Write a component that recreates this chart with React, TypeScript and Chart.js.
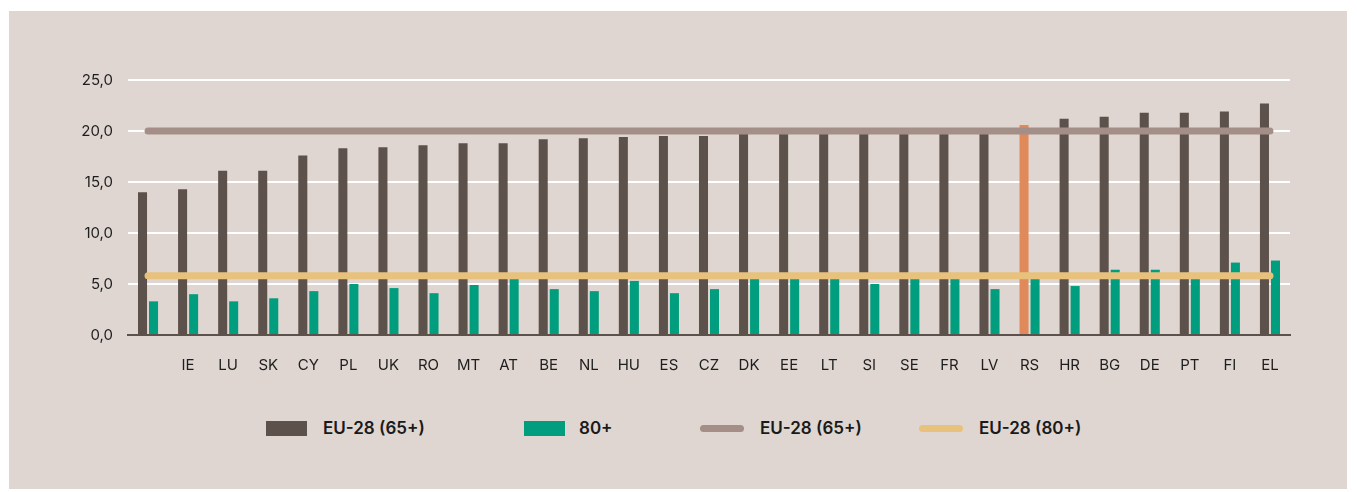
import React, { useEffect, useRef } from "react";
import { Chart, registerables } from "chart.js";

Chart.register(...registerables);

const categories = ["", "IE", "LU", "SK", "CY", "PL", "UK", "RO", "MT", "AT", "BE", "NL", "HU", "ES", "CZ", "DK", "EE", "LT", "SI", "SE", "FR", "LV", "RS", "HR", "BG", "DE", "PT", "FI", "EL"];
const share65 = [14.0, 14.3, 16.1, 16.1, 17.6, 18.3, 18.4, 18.6, 18.8, 18.8, 19.2, 19.3, 19.4, 19.5, 19.5, 19.7, 19.8, 19.8, 19.9, 19.9, 20.0, 20.1, 20.6, 21.2, 21.4, 21.8, 21.8, 21.9, 22.7];
const share80 = [3.3, 4.0, 3.3, 3.6, 4.3, 5.0, 4.6, 4.1, 4.9, 5.6, 4.5, 4.3, 5.3, 4.1, 4.5, 5.6, 5.6, 5.6, 5.0, 5.6, 5.6, 4.5, 5.6, 4.8, 6.4, 6.4, 5.6, 7.1, 7.3];
const eu28_65 = 20.0;
const eu28_80 = 5.8;
const highlighted = "RS";
const yTicks = [0, 5, 10, 15, 20, 25];

const legendLabels = ["EU-28 (65+)", "80+", "EU-28 (65+)", "EU-28 (80+)"];

const C_DARK = "#5D514C";
const C_GREEN = "#009E7E";
const C_ORANGE = "#E0895A";
const C_GRAY = "#A38F87";
const C_YELLOW = "#E8C27C";
const C_BG = "#DFD6D1";

export default function App() {
  const ref = useRef<HTMLCanvasElement | null>(null);

  useEffect(() => {
    if (!ref.current) return;
    Chart.defaults.font.family = "Inter";
    const chart = new Chart(ref.current, {
      type: "bar",
      data: {
        labels: categories,
        datasets: [
          {
            type: "line",
            label: legendLabels[2],
            data: categories.map(() => eu28_65),
            borderColor: C_GRAY,
            borderWidth: 7,
            borderCapStyle: "round",
            pointRadius: 0,
            fill: false,
            order: 0,
          } as any,
          {
            type: "line",
            label: legendLabels[3],
            data: categories.map(() => eu28_80),
            borderColor: C_YELLOW,
            borderWidth: 7,
            borderCapStyle: "round",
            pointRadius: 0,
            fill: false,
            order: 0,
          } as any,
          {
            label: legendLabels[0],
            data: share65,
            backgroundColor: categories.map((c) => (c === highlighted ? C_ORANGE : C_DARK)),
            categoryPercentage: 0.55,
            barPercentage: 0.82,
            order: 1,
          },
          {
            label: legendLabels[1],
            data: share80,
            backgroundColor: C_GREEN,
            categoryPercentage: 0.55,
            barPercentage: 0.82,
            order: 1,
          },
        ],
      },
      options: {
        animation: false,
        responsive: true,
        maintainAspectRatio: false,
        layout: { padding: { left: 0, right: 57, top: 69, bottom: 0 } },
        plugins: { legend: { display: false }, tooltip: { enabled: false } },
        scales: {
          x: {
            grid: { display: true, drawOnChartArea: false, drawTicks: false },
            border: { display: true, color: C_DARK, width: 2 },
            ticks: { color: "#1E1E1E", font: { size: 15 }, padding: 21, autoSkip: false, maxRotation: 0 },
            afterFit: (s: any) => {
              s.height = 56;
            },
          },
          y: {
            min: 0,
            max: 25,
            afterBuildTicks: (s: any) => {
              s.ticks = yTicks.map((v) => ({ value: v }));
            },
            grid: {
              color: (ctx: any) => (ctx.tick && ctx.tick.value === 0 ? "rgba(0,0,0,0)" : "#FFFFFF"),
              lineWidth: 2,
              drawTicks: false,
            },
            border: { display: false },
            ticks: {
              color: "#1E1E1E",
              font: { size: 15 },
              padding: 15,
              callback: (v: any) => Number(v).toFixed(1).replace(".", ","),
            },
            afterFit: (s: any) => {
              s.width = 119;
            },
          },
        },
      },
    });
    return () => chart.destroy();
  }, []);

  const textStyle: React.CSSProperties = {
    position: "absolute",
    top: 405,
    height: 24,
    lineHeight: "24px",
    fontFamily: "Inter",
    fontWeight: 600,
    fontSize: 17,
    color: "#1A1A1A",
    whiteSpace: "nowrap",
  };

  return (
    <div
      style={{
        position: "relative",
        top: 3,
        left: 1,
        width: 1338,
        height: 481,
        background: C_BG,
        fontFamily: "Inter",
      }}
    >
      <div style={{ position: "absolute", left: 0, top: 0, width: 1338, height: 380 }}>
        <canvas ref={ref} />
      </div>
      <div style={{ position: "absolute", left: 257, top: 410, width: 41, height: 15, background: C_DARK }} />
      <div style={{ ...textStyle, left: 314 }}>{legendLabels[0]}</div>
      <div style={{ position: "absolute", left: 515, top: 410, width: 41, height: 15, background: C_GREEN }} />
      <div style={{ ...textStyle, left: 570 }}>{legendLabels[1]}</div>
      <div style={{ position: "absolute", left: 691, top: 414, width: 44, height: 7, borderRadius: 3.5, background: C_GRAY }} />
      <div style={{ ...textStyle, left: 751 }}>{legendLabels[2]}</div>
      <div style={{ position: "absolute", left: 910, top: 414, width: 44, height: 7, borderRadius: 3.5, background: C_YELLOW }} />
      <div style={{ ...textStyle, left: 970 }}>{legendLabels[3]}</div>
    </div>
  );
}
